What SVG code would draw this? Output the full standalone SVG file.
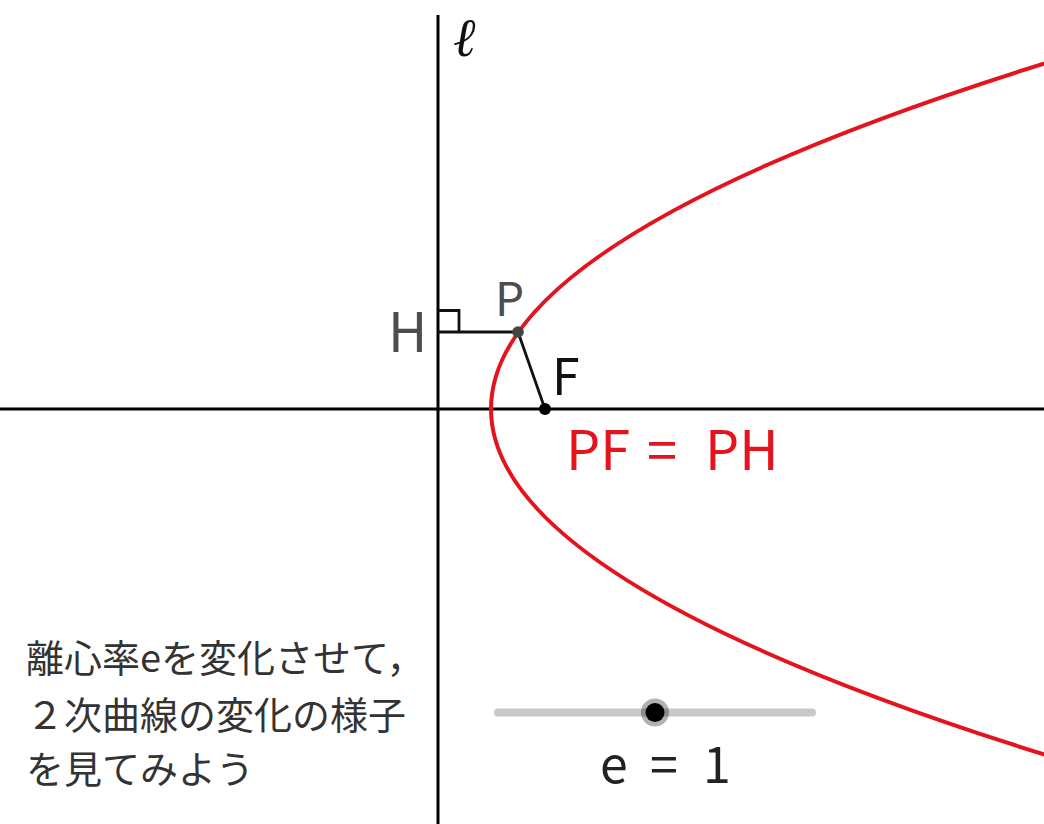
<svg xmlns="http://www.w3.org/2000/svg" width="1044" height="824" viewBox="0 0 1044 824">
<style>
.axis{stroke:#000;stroke-width:3;fill:none}
.seg{stroke:#111;stroke-width:2.8;fill:none}
.curve{stroke:#e4141e;stroke-width:4;fill:none}
.lbl{font-family:"Noto Sans CJK JP","Noto Sans",sans-serif}
.jp{font-family:"Noto Sans CJK JP",sans-serif;font-size:38px;fill:#333}
</style>
<rect width="1044" height="824" fill="#fff"/>
<g id="axes">
<line class="axis" x1="0" y1="409" x2="1044" y2="409"/>
<line class="axis" x1="438" y1="15" x2="438" y2="824"/>
</g>
<g id="label-l"><text x="453" y="56" font-family="DejaVu Serif,serif" font-style="italic" font-size="54" fill="#111">ℓ</text></g>
<g id="parabola"><path class="curve" d="M1060,58.6 Q-78,409 1060,759.4"/></g>
<g id="connectors">
<line class="seg" x1="438" y1="332" x2="518" y2="332"/>
<line class="seg" x1="518" y1="332" x2="545" y2="409"/>
<polyline class="seg" stroke-width="1.6" points="439,310.5 459,310.5 459,331"/>
</g>
<g id="point-P"><circle cx="518" cy="332" r="5.8" fill="#444"/>
<text class="lbl" x="495" y="316" font-size="46" fill="#4d4d4d">P</text></g>
<g id="point-H"><text class="lbl" x="388" y="352" font-size="54" fill="#4d4d4d">H</text></g>
<g id="point-F"><circle cx="545" cy="409" r="6" fill="#000"/>
<text class="lbl" x="552" y="395" font-size="50" fill="#111">F</text></g>
<g id="equation"><text class="lbl" y="470" font-size="54" fill="#e4141e"><tspan x="566">PF</tspan><tspan x="647">=</tspan><tspan x="705">PH</tspan></text></g>
<g id="slider">
<line x1="498" y1="712.5" x2="812" y2="712.5" stroke="#c8c8c8" stroke-width="8" stroke-linecap="round"/>
<circle cx="655" cy="712.5" r="14" fill="#000" fill-opacity="0.3"/>
<circle cx="655" cy="712.5" r="9.5" fill="#000"/>
<text class="lbl" y="783" font-size="50" fill="#222"><tspan x="600">e</tspan><tspan x="650">=</tspan><tspan x="703">1</tspan></text>
</g>
<g id="caption">
<text class="jp" x="26" y="672">離心率eを変化させて，</text>
<text class="jp" x="26" y="729">２次曲線の変化の様子</text>
<text class="jp" x="26" y="783">を見てみよう</text>
</g>
</svg>
